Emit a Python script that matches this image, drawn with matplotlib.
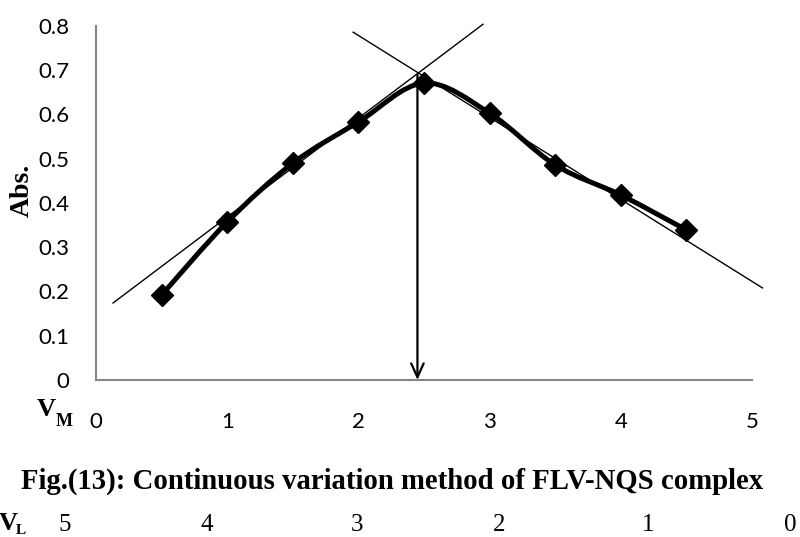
import matplotlib
matplotlib.use("Agg")
import matplotlib.pyplot as plt
from matplotlib.path import Path
from matplotlib.patches import PathPatch

# data
vm = [0.5, 1.0, 1.5, 2.0, 2.5, 3.0, 3.5, 4.0, 4.5]
absorb = [0.192, 0.357, 0.490, 0.583, 0.671, 0.603, 0.486, 0.418, 0.339]

# tangent lines (end points, data units)
left_tan_x = [0.13, 2.95]
left_tan_y = [0.174, 0.804]
right_tan_x = [1.96, 5.08]
right_tan_y = [0.786, 0.208]

# arrow down to the stoichiometric point
arrow_x = 2.45
arrow_top = 0.69

x_ticks = [0, 1, 2, 3, 4, 5]
y_ticks = [0, 0.1, 0.2, 0.3, 0.4, 0.5, 0.6, 0.7, 0.8]
vl_labels = ["5", "4", "3", "2", "1", "0"]
vl_pos = [65, 207, 357, 499, 648, 790]

CAPTION = "Fig.(13): Continuous variation method of FLV-NQS complex"
SANS = "Lato"
SERIF = "Liberation Serif"
GRAY = "#868686"


def smooth_path(xs, ys):
    # Bezier path like the spreadsheet "smoothed line" option
    pts = list(zip(xs, ys))
    n = len(pts)
    verts = [pts[0]]
    codes = [Path.MOVETO]
    for i in range(n - 1):
        p0 = pts[i - 1] if i > 0 else pts[i]
        p1 = pts[i]
        p2 = pts[i + 1]
        p3 = pts[i + 2] if i + 2 < n else pts[i + 1]
        c1 = (p1[0] + (p2[0] - p0[0]) / 6, p1[1] + (p2[1] - p0[1]) / 6)
        c2 = (p2[0] - (p3[0] - p1[0]) / 6, p2[1] - (p3[1] - p1[1]) / 6)
        verts += [c1, c2, p2]
        codes += [Path.CURVE4] * 3
    return Path(verts, codes)


fig = plt.figure(figsize=(8, 5.37), dpi=100)
ax = fig.add_axes([0.12, 0.2924, 0.82, 0.6592])

ax.add_patch(PathPatch(smooth_path(vm, absorb), fill=False, lw=3.6,
                       color="black", capstyle="round", joinstyle="round", zorder=3))
ax.plot(vm, absorb, linestyle="none", marker="D", markersize=11,
        color="black", zorder=4)

ax.plot(left_tan_x, left_tan_y, color="black", lw=1.0, clip_on=False, zorder=2)
ax.plot(right_tan_x, right_tan_y, color="black", lw=1.0, clip_on=False, zorder=2)

ax.annotate("", xy=(arrow_x, 0), xytext=(arrow_x, arrow_top),
            arrowprops=dict(arrowstyle="->,head_length=1.0,head_width=0.45",
                            color="black", lw=1.6, shrinkA=0, shrinkB=0),
            annotation_clip=False, zorder=5)

ax.set_xlim(0, 5)
ax.set_ylim(0, 0.8)
ax.set_xticks(x_ticks)
ax.set_yticks(y_ticks)
ax.set_xticklabels([str(t) for t in x_ticks], fontfamily=SANS, fontsize=16)
ax.set_yticklabels([f"{t:g}" for t in y_ticks], fontfamily=SANS, fontsize=16)
ax.tick_params(axis="both", length=0)
ax.tick_params(axis="x", pad=23)
ax.tick_params(axis="y", pad=19)

for side in ["top", "right"]:
    ax.spines[side].set_visible(False)
for side in ["left", "bottom"]:
    ax.spines[side].set_color(GRAY)
    ax.spines[side].set_linewidth(1.5)

# axis titles
fig.text(22 / 800, 1 - 190 / 537, "Abs.", rotation=90, ha="center", va="center",
         fontfamily=SERIF, fontweight="bold", fontsize=20)
fig.text(46 / 800, 1 - 410 / 537, "V", ha="center", va="center",
         fontfamily=SERIF, fontweight="bold", fontsize=19)
fig.text(64 / 800, 1 - 421 / 537, "M", ha="center", va="center",
         fontfamily=SERIF, fontweight="bold", fontsize=13)

fig.text(392 / 800, 1 - 481 / 537, CAPTION, ha="center", va="center",
         fontfamily=SERIF, fontweight="bold", fontsize=20.7)

# second scale for the ligand volume
fig.text(8 / 800, 1 - 524 / 537, "V", ha="center", va="center",
         fontfamily=SERIF, fontweight="bold", fontsize=19)
fig.text(21 / 800, 1 - 530 / 537, "L", ha="center", va="center",
         fontfamily=SERIF, fontweight="bold", fontsize=11)
for lab, px in zip(vl_labels, vl_pos):
    fig.text(px / 800, 1 - 525 / 537, lab, ha="center", va="center",
             fontfamily=SERIF, fontsize=18)

fig.savefig("out.png", dpi=100)
